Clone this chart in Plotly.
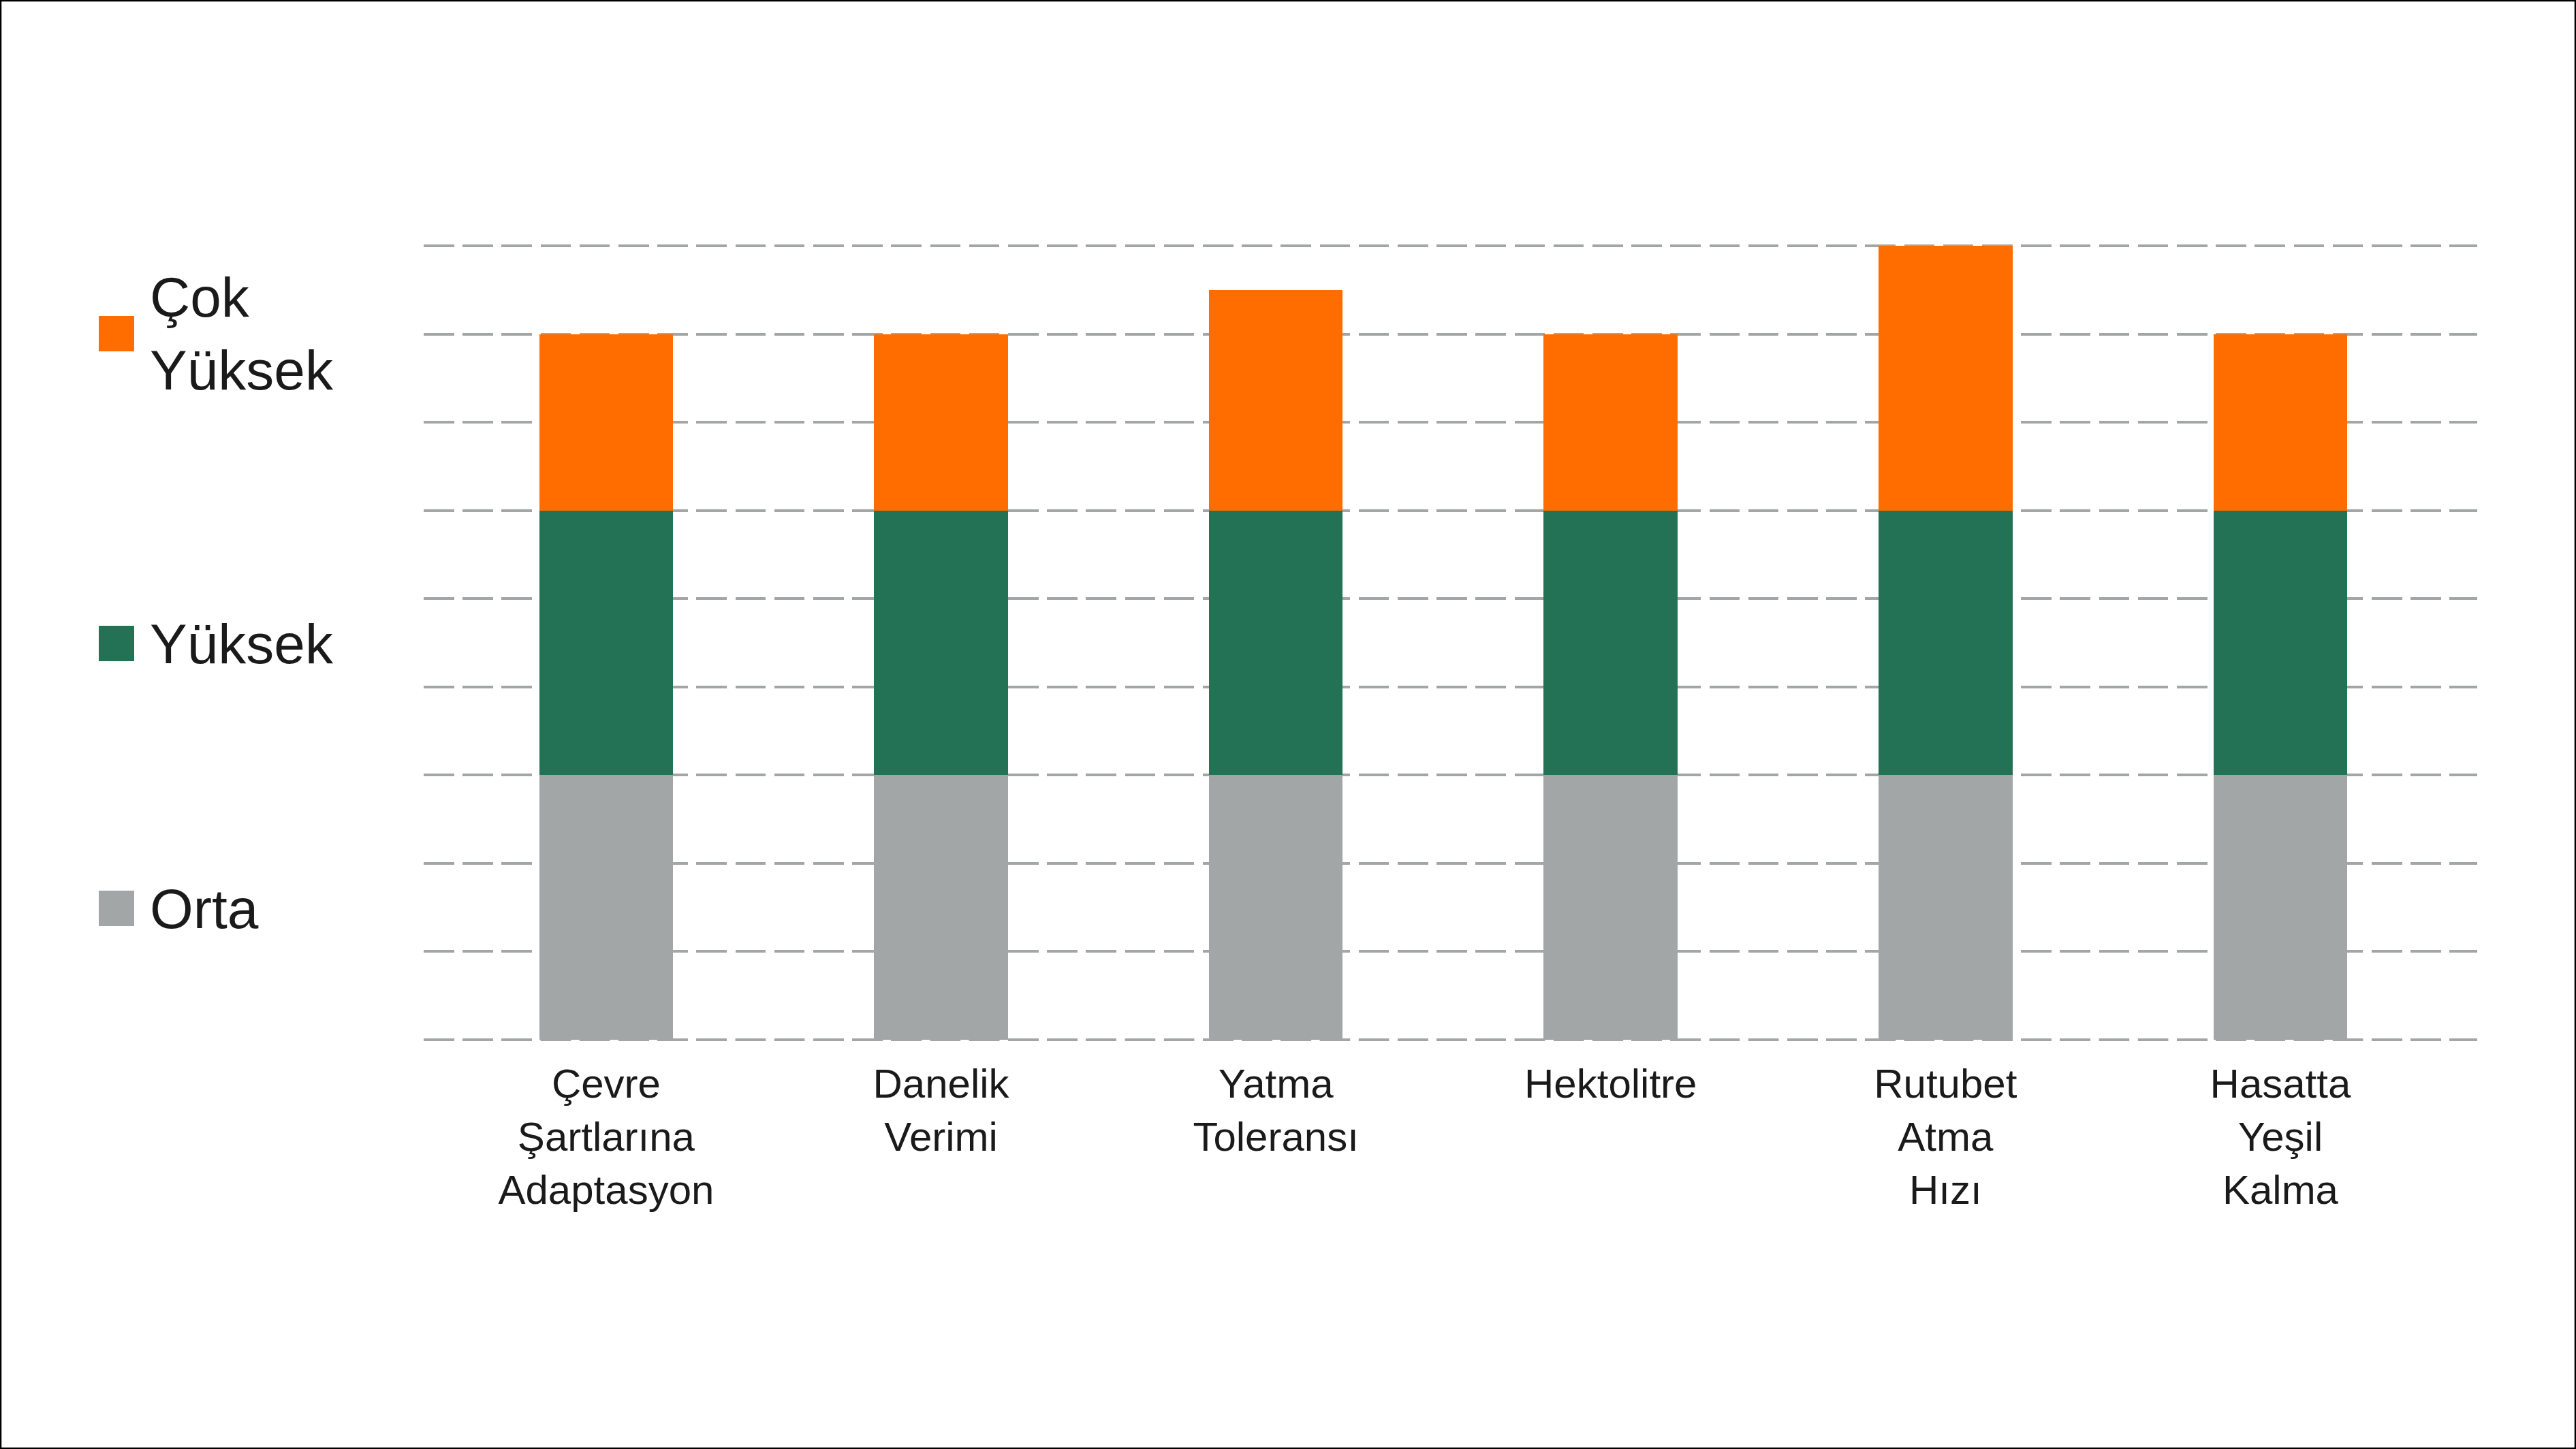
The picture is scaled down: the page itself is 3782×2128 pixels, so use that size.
import plotly.graph_objects as go

# ---- data ----
categories = ["Çevre<br>Şartlarına<br>Adaptasyon", "Danelik<br>Verimi", "Yatma<br>Toleransı",
              "Hektolitre", "Rutubet<br>Atma<br>Hızı", "Hasatta<br>Yeşil<br>Kalma"]
orta = [3, 3, 3, 3, 3, 3]
yuksek = [3, 3, 3, 3, 3, 3]
cok_yuksek = [2, 2, 2.5, 2, 3, 2]
series_names = ["Orta", "Yüksek", "Çok<br>Yüksek"]
series_colors = ["#A3A6A6", "#237256", "#FF6D00"]
y_ticks = list(range(0, 10))

# ---- layout geometry (pixels) ----
W, H = 3782, 2128
L, R, T, B = 622, 145, 359, 599          # plot area 622..3637 x 359..1529
PW, PH = W - L - R, H - T - B
FONT = "Liberation Sans, Helvetica Neue, Arial, sans-serif"
TEXT = "#1a1a1a"
GRID = "#A3A6A6"
DASH = "44.6px,12.6px"
Y_PAD = 0.015                            # keeps edge gridlines from being clipped


def px_x(x):
    return (x - L) / PW


def px_y(y):
    return (H - B - y) / PH


fig = go.Figure()
for name, vals, col in zip(series_names, [orta, yuksek, cok_yuksek], series_colors):
    fig.add_trace(go.Bar(x=categories, y=vals, name=name.replace("<br>", " "),
                         marker=dict(color=col, line=dict(width=0)),
                         width=0.4, showlegend=False))

shapes = []
annotations = []
# custom legend (large squares)
legend_centers = [1334, 945, 490]
for name, col, cy in zip(series_names, series_colors, legend_centers):
    shapes.append(dict(type="rect", xref="paper", yref="paper",
                       x0=px_x(145), x1=px_x(197), y0=px_y(cy + 26), y1=px_y(cy - 26),
                       fillcolor=col, line=dict(width=0)))
    annotations.append(dict(text=name, xref="paper", yref="paper", x=px_x(218), y=px_y(cy),
                            xanchor="left", yanchor="middle", align="left", showarrow=False,
                            font=dict(family=FONT, size=82, color=TEXT)))

# dashed baseline drawn over bars
shapes.append(dict(type="line", xref="paper", yref="y", x0=0, x1=1, y0=0, y1=0,
                   layer="above", line=dict(color=GRID, width=4.3, dash=DASH)))
# frame around the picture
shapes.append(dict(type="rect", xref="paper", yref="paper",
                   x0=px_x(1), x1=px_x(W - 1), y0=px_y(H - 1), y1=px_y(1),
                   line=dict(color="black", width=2.5), layer="above"))

fig.update_layout(
    width=W, height=H,
    margin=dict(l=L, r=R, t=T, b=B, pad=0),
    paper_bgcolor="white", plot_bgcolor="white",
    barmode="stack",
    showlegend=False,
    shapes=shapes, annotations=annotations,
    font=dict(family=FONT, color=TEXT),
)
fig.update_xaxes(range=[-0.545, 5.588], showgrid=False, zeroline=False, showline=False,
                 ticks="", ticklabelstandoff=22,
                 tickfont=dict(family=FONT, size=60, color=TEXT))
fig.update_yaxes(range=[-Y_PAD, 9 + Y_PAD], tickvals=y_ticks, showticklabels=False,
                 zeroline=False, showline=False, showgrid=True,
                 gridcolor=GRID, gridwidth=4.3, griddash=DASH)

fig.write_html("out.html", config={"displayModeBar": False},
               post_script="document.body.style.margin='0px';document.body.style.overflow='hidden';")
